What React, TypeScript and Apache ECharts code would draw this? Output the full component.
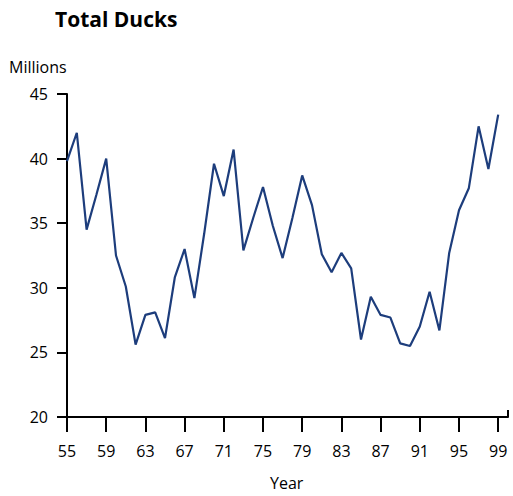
import React, { useEffect, useRef } from "react";
import * as echarts from "echarts";

const years = [55, 56, 57, 58, 59, 60, 61, 62, 63, 64, 65, 66, 67, 68, 69, 70, 71, 72, 73, 74, 75, 76, 77, 78, 79, 80, 81, 82, 83, 84, 85, 86, 87, 88, 89, 90, 91, 92, 93, 94, 95, 96, 97, 98, 99];
const ducks = [39.8, 42.0, 34.5, 37.2, 40.0, 32.5, 30.1, 25.6, 27.9, 28.1, 26.1, 30.8, 33.0, 29.2, 34.2, 39.6, 37.1, 40.7, 32.9, 35.4, 37.8, 34.8, 32.3, 35.4, 38.7, 36.4, 32.6, 31.2, 32.7, 31.5, 26.0, 29.3, 27.9, 27.7, 25.7, 25.5, 27.0, 29.7, 26.7, 32.7, 36.0, 37.7, 42.5, 39.2, 43.4];
const xTickYears = [55, 59, 63, 67, 71, 75, 79, 83, 87, 91, 95, 99];
const xEnd = 100;
const yMin = 20;
const yMax = 45;
const yStep = 5;
const title = "Total Ducks";
const yTitle = "Millions";
const xTitle = "Year";

const FONT = "'Open Sans', 'Noto Sans', sans-serif";

export default function App() {
  const ref = useRef<HTMLDivElement>(null);
  useEffect(() => {
    if (!ref.current) return;
    const chart = echarts.init(ref.current, null, { renderer: "svg" });
    chart.setOption({
      animation: false,
      backgroundColor: "#ffffff",
      grid: { left: 67, right: 5, top: 94, bottom: 79, containLabel: false },
      xAxis: [
        {
          type: "value",
          min: years[0],
          max: xEnd,
          position: "bottom",
          splitLine: { show: false },
          axisLine: { show: true, lineStyle: { color: "#000", width: 2 } },
          axisTick: { show: true, length: 15, lineStyle: { color: "#000", width: 2 }, customValues: xTickYears },
          axisLabel: {
            show: true,
            customValues: xTickYears,
            margin: 26,
            color: "#000",
            fontSize: 16,
            fontFamily: FONT,
            formatter: (v: number) => String(v),
          },
        },
        {
          type: "value",
          min: years[0],
          max: xEnd,
          position: "bottom",
          splitLine: { show: false },
          axisLine: { show: false },
          axisTick: { show: true, inside: true, length: 7, lineStyle: { color: "#000", width: 2 }, customValues: [xEnd] },
          axisLabel: { show: false },
        },
      ],
      yAxis: {
        type: "value",
        min: yMin,
        max: yMax,
        interval: yStep,
        splitLine: { show: false },
        axisLine: { show: true, lineStyle: { color: "#000", width: 2 } },
        axisTick: { show: true, length: 10, lineStyle: { color: "#000", width: 2 } },
        axisLabel: { color: "#000", fontSize: 16, fontFamily: FONT, margin: 19 },
      },
      graphic: [
        {
          type: "text",
          left: 55,
          top: 8,
          style: { text: title, fontSize: 21, fontWeight: "bold", fontFamily: FONT, fill: "#000" },
        },
        {
          type: "text",
          left: 9,
          top: 59,
          style: { text: yTitle, fontSize: 16, fontFamily: FONT, fill: "#000" },
        },
        {
          type: "text",
          left: 270,
          top: 475,
          style: { text: xTitle, fontSize: 16, fontFamily: FONT, fill: "#000" },
        },
      ],
      series: [
        {
          type: "line",
          xAxisIndex: 0,
          data: years.map((y, i) => [y, ducks[i]]),
          symbol: "none",
          lineStyle: { color: "#1d3d7c", width: 2.2 },
        },
      ],
    });
    return () => chart.dispose();
  }, []);
  return <div ref={ref} style={{ position: "fixed", left: 0, top: 0, width: 513, height: 496 }} />;
}
